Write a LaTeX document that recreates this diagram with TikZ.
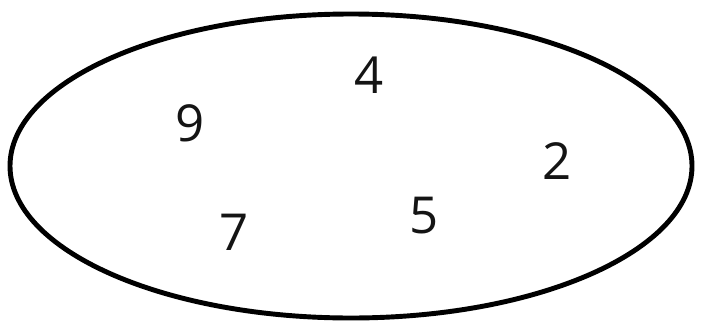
\documentclass[tikz,border=0pt]{standalone}
\usepackage{fontspec}
\usepackage{xcolor}
\usepackage{tikz}
\newfontfamily\digitfont{Open Sans}
\definecolor{setBlack}{RGB}{0,0,0}
\definecolor{digitInk}{RGB}{20,20,20}

\begin{document}
\begin{tikzpicture}[x=1cm,y=1cm]
    \useasboundingbox (0,0) rectangle (14.04,6.46);
    \tikzset{digit/.style={text=digitInk, inner sep=0pt, font=\digitfont\fontsize{29}{29}\selectfont}}

    \draw[setBlack, line width=2.8pt] (7.02,3.14) ellipse [x radius=6.82, y radius=3.04];

    \node[digit] (nine) at (3.80,4.00) {9};
    \node[digit] (four) at (7.38,4.96) {4};
    \node[digit] (two) at (11.14,3.24) {2};
    \node[digit] (five) at (8.48,2.14) {5};
    \node[digit] (seven) at (4.68,1.82) {7};
\end{tikzpicture}
\end{document}
